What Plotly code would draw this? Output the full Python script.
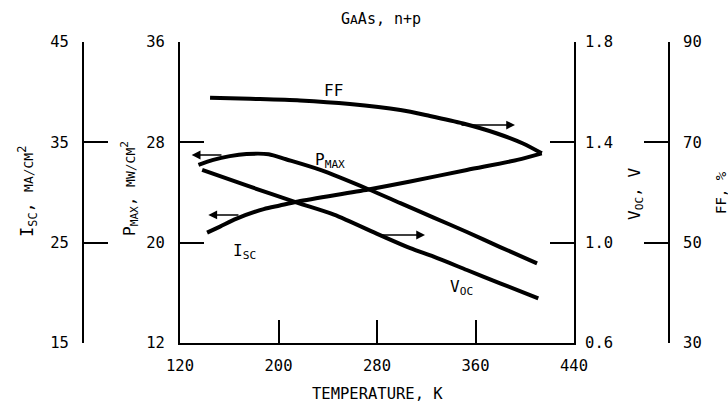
import plotly.graph_objects as go

# ---- data ----
temp_ff = [144.4, 177, 217.5, 258, 299, 323, 350, 377.5, 398.6, 413.8]
ff_pct = [78.9, 78.68, 78.34, 77.64, 76.44, 75.25, 73.75, 71.76, 69.76, 67.8]

temp_isc = [142, 152.5, 166, 188, 201, 216, 273, 307, 353, 394, 413.8]
isc_ma = [26.0, 26.6, 27.4, 28.35, 28.7, 29.1, 30.3, 31.1, 32.25, 33.25, 33.9]

temp_pmax = [135, 147, 160.5, 174, 192, 206, 234, 273, 299, 326, 353, 380, 410]
pmax_mw = [26.2, 26.6, 26.9, 27.07, 27.05, 26.65, 25.8, 24.26, 23.15, 22.0, 20.85, 19.65, 18.35]

temp_voc = [138, 174, 215, 245, 282, 307, 326, 353, 380, 411]
voc_v = [1.29, 1.228, 1.16, 1.112, 1.031, 0.978, 0.944, 0.891, 0.838, 0.778]

x_ticks = [120, 200, 280, 360, 440]
pmax_ticks = [12, 20, 28, 36]
isc_ticks = [15, 25, 35, 45]
voc_ticks = [0.6, 1.0, 1.4, 1.8]
ff_ticks = [30, 50, 70, 90]

# ---- layout geometry ----
W, H = 728, 406
ML, MR, MT, MB = 60, 40, 42, 63
PW = W - ML - MR
PH = H - MT - MB


def px(x):
    return (x - ML) / PW


def py(y):
    return (H - MB - y) / PH


FONT = "DejaVu Sans Mono"
tickfont = dict(family=FONT, size=15.5, color="black")
LINE = dict(width=4, color="black", shape="spline", smoothing=0.8)

fig = go.Figure()
fig.add_trace(go.Scatter(x=temp_ff, y=ff_pct, mode="lines", line=LINE, yaxis="y4", showlegend=False))
fig.add_trace(go.Scatter(x=temp_isc, y=isc_ma, mode="lines", line=LINE, yaxis="y2", showlegend=False))
fig.add_trace(go.Scatter(x=temp_pmax, y=pmax_mw, mode="lines", line=LINE, yaxis="y", showlegend=False))
fig.add_trace(go.Scatter(x=temp_voc, y=voc_v, mode="lines", line=LINE, yaxis="y3", showlegend=False))

axis_common = dict(showgrid=False, zeroline=False, showline=True, linecolor="black", linewidth=2,
                   ticks="inside", tickcolor="black", tickwidth=2, ticklen=24, tickfont=tickfont)

fig.update_layout(
    width=W, height=H, autosize=False,
    margin=dict(l=ML, r=MR, t=MT, b=MB, pad=0),
    paper_bgcolor="white", plot_bgcolor="white",
    xaxis=dict(domain=[px(180), px(574)], range=[120, 440], tickvals=x_ticks, anchor="y",
               ticklabelstandoff=7, **{**axis_common, "ticklen": 23}),
    yaxis=dict(range=[12, 36], tickvals=pmax_ticks, side="left", anchor="x",
               ticklabelstandoff=10, **axis_common),
    yaxis2=dict(range=[15, 45], tickvals=isc_ticks, side="left", overlaying="y", anchor="free",
                position=px(83), ticklabelstandoff=10, **axis_common),
    yaxis3=dict(range=[0.6, 1.8], tickvals=voc_ticks, tickformat=".1f", side="right", overlaying="y",
                anchor="x", ticklabelstandoff=6, **axis_common),
    yaxis4=dict(range=[30, 90], tickvals=ff_ticks, side="right", overlaying="y", anchor="free",
                position=px(669), ticklabelstandoff=10, **axis_common),
)

ann = []
# arrows pointing to the axis each curve belongs to
arrow_style = dict(text="", showarrow=True, arrowhead=2, arrowsize=1.1, arrowwidth=1.6,
                   arrowcolor="black", standoff=0, xref="x", axref="x")
ann.append(dict(x=129.5, y=26.99, ax=154.9, ay=26.99, yref="y", ayref="y", **arrow_style))
ann.append(dict(x=143.0, y=27.76, ax=168.7, ay=27.76, yref="y2", ayref="y2", **arrow_style))
ann.append(dict(x=392.1, y=73.45, ax=347.4, ay=73.45, yref="y4", ayref="y4", **arrow_style))
ann.append(dict(x=319.0, y=1.0306, ax=282.4, ay=1.0306, yref="y3", ayref="y3", **arrow_style))

lab_font = dict(family=FONT, size=16, color="black")
small = "<span style='font-size:13px'>%s</span>"


def text(t, x, y, xanchor="center", yanchor="middle", angle=0, font=lab_font):
    ann.append(dict(text=t, x=px(x), y=py(y), xref="paper", yref="paper", showarrow=False,
                    xanchor=xanchor, yanchor=yanchor, textangle=angle, font=font))


# curve labels
text("FF", 333, 91)
text("P<sub>MAX</sub>", 313, 160, xanchor="left")
text("I<sub>SC</sub>", 231, 251, xanchor="left")
text("V<sub>OC</sub>", 448, 287, xanchor="left")

# title and axis titles
text("G" + small % "A" + "As, n+p", 381, 19, font=dict(family=FONT, size=15, color="black"))
text("TEMPERATURE, K", 377, 394, font=dict(family=FONT, size=15.5, color="black"))
text("I<sub>SC</sub>, " + small % "MA/CM" + "<sup>2</sup>", 27, 192, angle=-90,
     font=dict(family=FONT, size=17, color="black"))
text("P<sub>MAX</sub>, " + small % "MW/CM" + "<sup>2</sup>", 129, 189, angle=-90)
text("V<sub>OC</sub>, V", 635, 194, angle=-90)
text("FF, %", 721, 193, angle=-90, font=dict(family=FONT, size=14, color="black"))

fig.update_layout(annotations=ann)
fig.write_html("out.html")
